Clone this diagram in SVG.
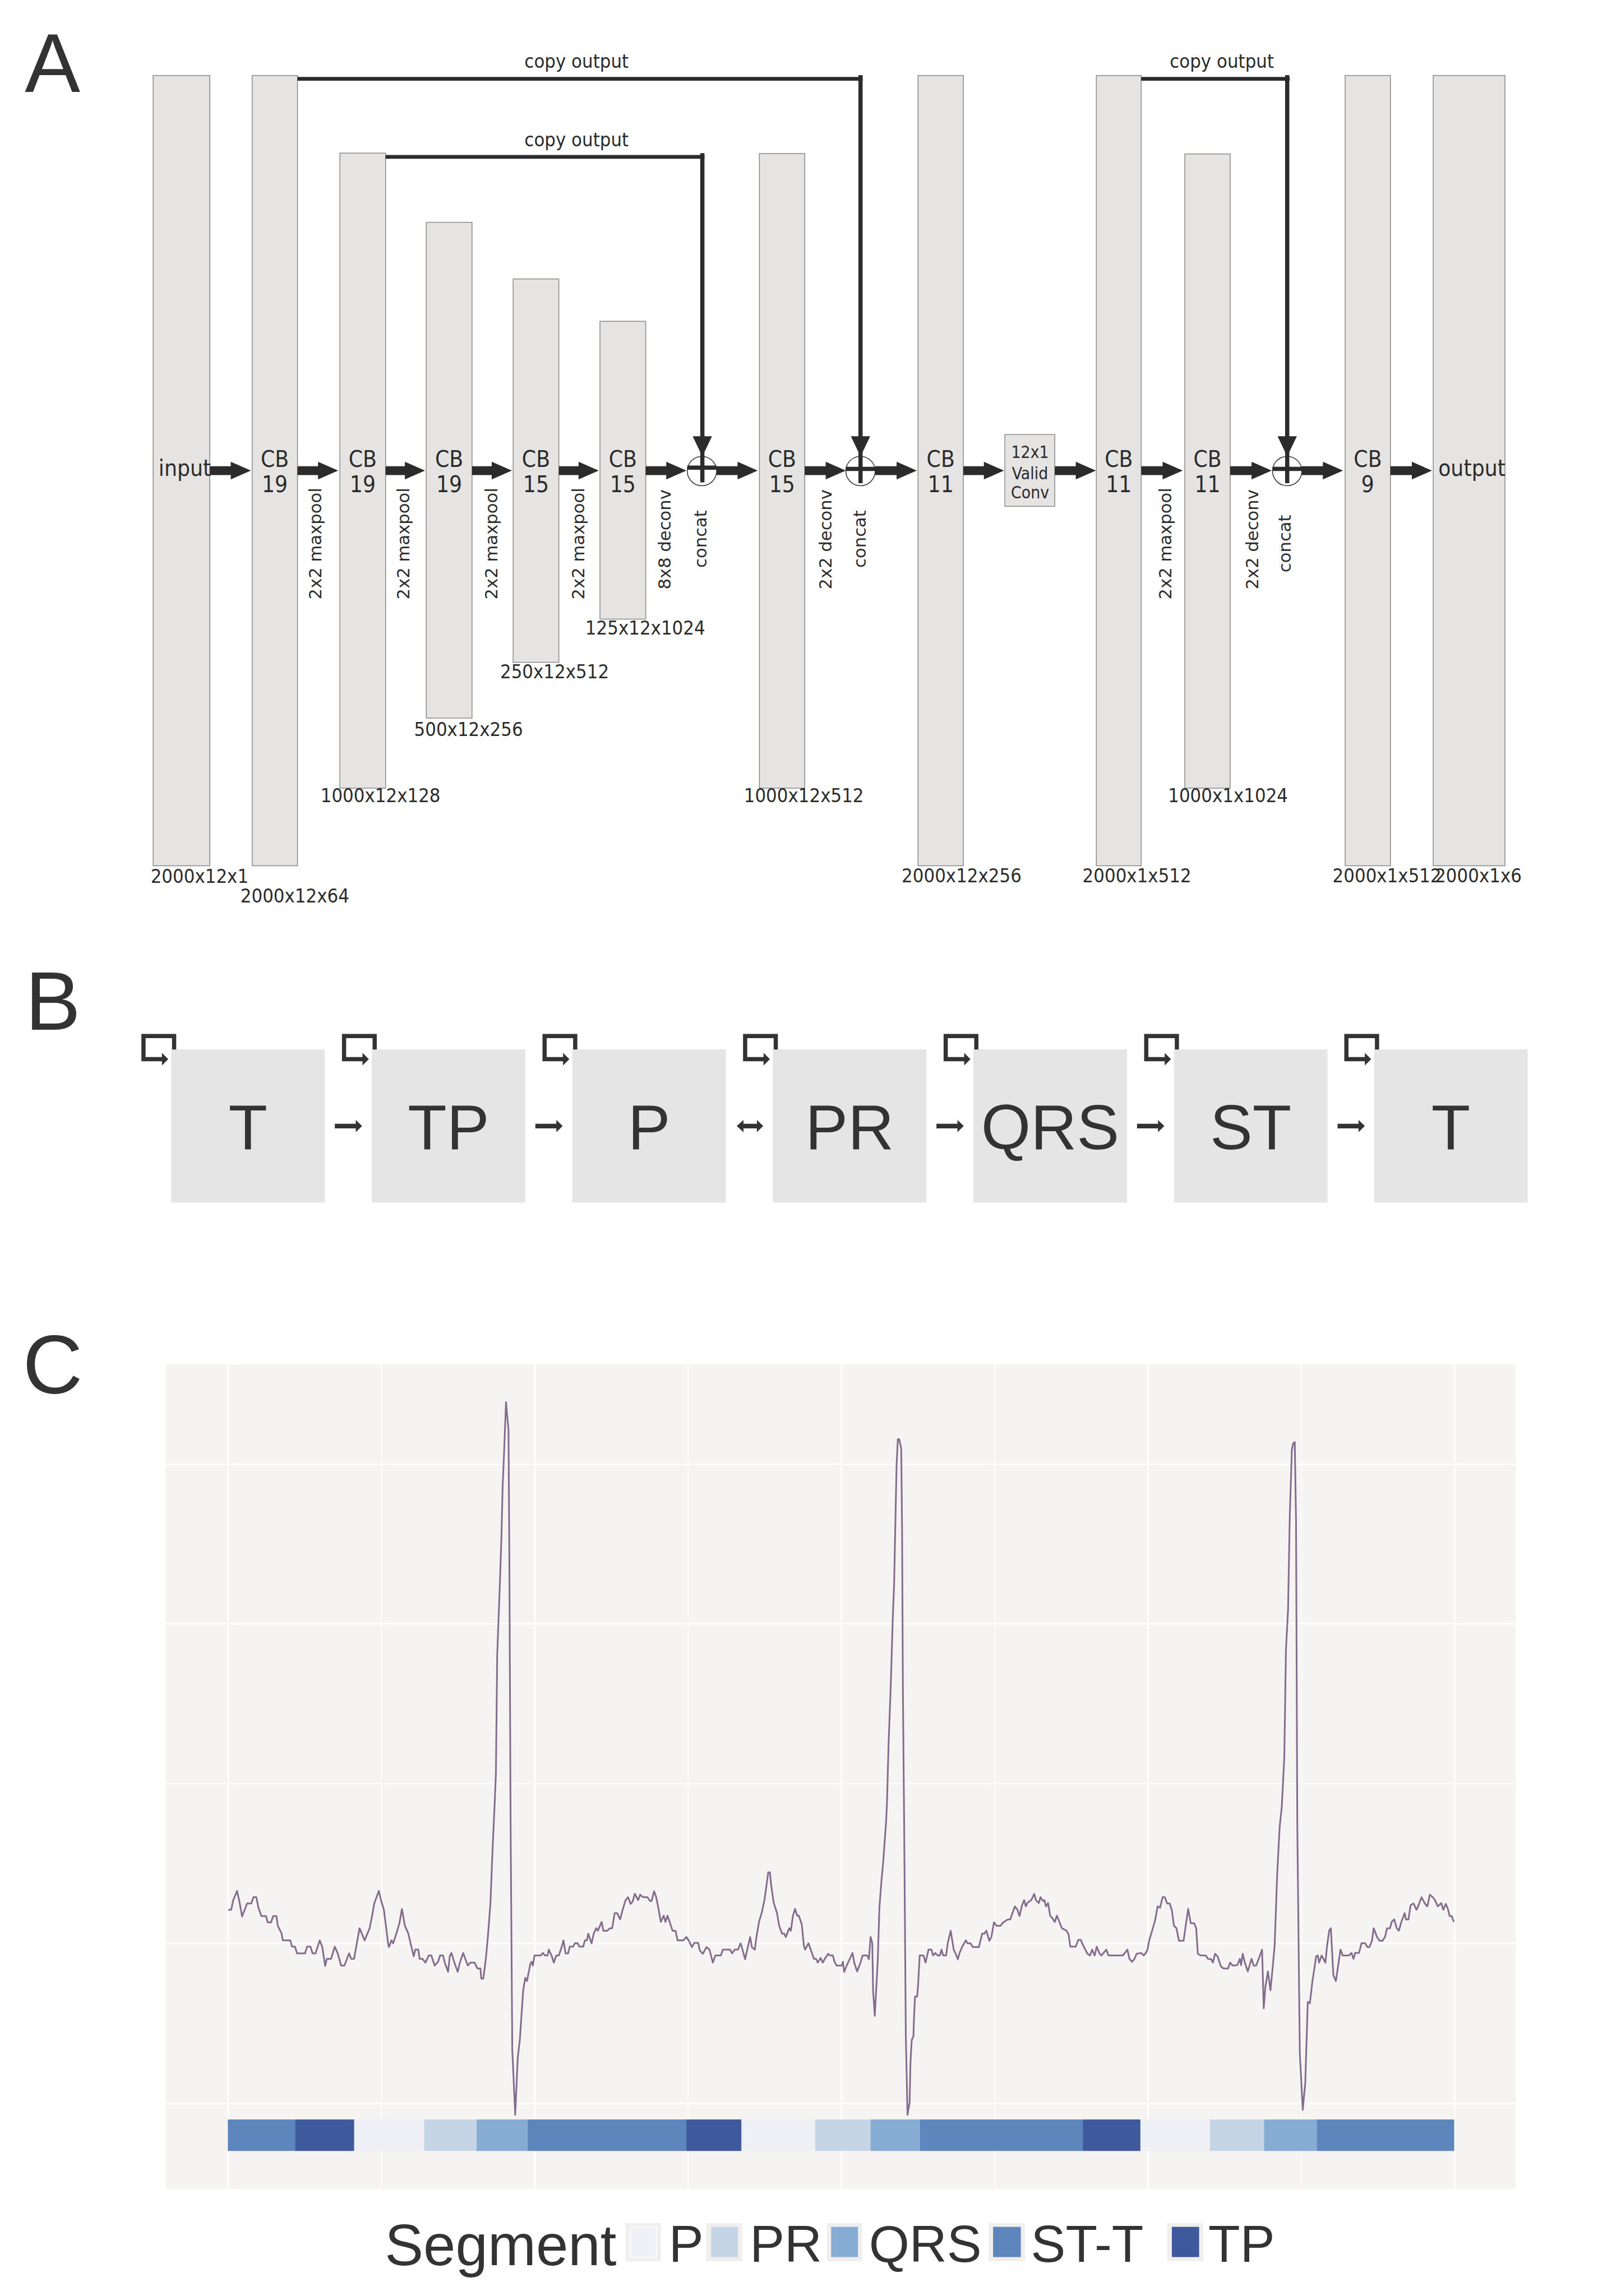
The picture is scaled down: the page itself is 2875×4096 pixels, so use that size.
<svg xmlns="http://www.w3.org/2000/svg" width="2875" height="4096" viewBox="0 0 2875 4096">
<defs>
<style>
.bar{fill:#e5e4e3;stroke:#8a8a8a;stroke-width:2}
.cd{font-family:'DejaVu Sans Condensed','Liberation Sans Narrow','DejaVu Sans',sans-serif;font-stretch:condensed;fill:#2b2b2b}
.cb{font-size:54px;text-anchor:middle}
.dim{font-size:46px}
.rot{font-family:'DejaVu Sans',sans-serif;font-size:41px;fill:#2b2b2b;text-anchor:middle}
.hv{font-family:'Liberation Sans',Arial,sans-serif;fill:#333}
.pl{font-size:198px}
.ar{fill:#2b2b2b}
.cp{fill:none;stroke:#2b2b2b}
.bx{fill:#e5e5e5}
.bt{font-size:152px;text-anchor:middle}
.lp{fill:none;stroke:#333;stroke-width:10}
.ab{fill:#333}
.gmaj{stroke:#ffffff;stroke-width:4}
.gmin{stroke:#ffffff;stroke-width:2}
.lg{font-size:124px}
</style>
</defs>
<rect width="2875" height="4096" fill="#ffffff"/>
<g transform="scale(0.74829)">
<!-- panel labels -->
<text class="hv pl" x="59" y="219">A</text>
<text class="hv pl" x="60" y="2455">B</text>
<text class="hv pl" x="54" y="3322">C</text>

<!-- PANEL A -->
<g id="a-input"><rect class="bar" x="365" y="180" width="135" height="1884"/><text class="cd" x="378" y="1134" font-size="54">input</text><text class="cd dim" x="359" y="2105">2000x12x1</text></g>
<g id="a-cb1"><rect class="bar" x="601" y="180" width="108" height="1884"/><text class="cd cb" x="655" y="1113">CB</text><text class="cd cb" x="655" y="1173">19</text><text class="cd dim" x="573" y="2152">2000x12x64</text></g>
<g id="a-cb2"><rect class="bar" x="810" y="365" width="109" height="1514"/><text class="cd cb" x="864.5" y="1113">CB</text><text class="cd cb" x="864.5" y="1173">19</text><text class="cd dim" x="764" y="1913">1000x12x128</text></g>
<g id="a-cb3"><rect class="bar" x="1016" y="530" width="109" height="1182"/><text class="cd cb" x="1070.5" y="1113">CB</text><text class="cd cb" x="1070.5" y="1173">19</text><text class="cd dim" x="987" y="1754">500x12x256</text></g>
<g id="a-cb4"><rect class="bar" x="1223" y="665" width="109" height="914"/><text class="cd cb" x="1277.5" y="1113">CB</text><text class="cd cb" x="1277.5" y="1173">15</text><text class="cd dim" x="1192" y="1617">250x12x512</text></g>
<g id="a-cb5"><rect class="bar" x="1430" y="766" width="109" height="710"/><text class="cd cb" x="1484.5" y="1113">CB</text><text class="cd cb" x="1484.5" y="1173">15</text><text class="cd dim" x="1395" y="1513">125x12x1024</text></g>
<g id="a-cb6"><rect class="bar" x="1810" y="366" width="108" height="1513"/><text class="cd cb" x="1864" y="1113">CB</text><text class="cd cb" x="1864" y="1173">15</text><text class="cd dim" x="1773" y="1913">1000x12x512</text></g>
<g id="a-cb7"><rect class="bar" x="2188" y="180" width="108" height="1884"/><text class="cd cb" x="2242" y="1113">CB</text><text class="cd cb" x="2242" y="1173">11</text><text class="cd dim" x="2149" y="2104">2000x12x256</text></g>
<g id="a-valid"><rect class="bar" x="2395" y="1036" width="119" height="171"/><text class="cd" font-size="40" text-anchor="middle" x="2455" y="1092">12x1</text><text class="cd" font-size="40" text-anchor="middle" x="2455" y="1142">Valid</text><text class="cd" font-size="40" text-anchor="middle" x="2455" y="1188">Conv</text></g>
<g id="a-cb8"><rect class="bar" x="2613" y="180" width="107" height="1884"/><text class="cd cb" x="2666.5" y="1113">CB</text><text class="cd cb" x="2666.5" y="1173">11</text><text class="cd dim" x="2580" y="2104">2000x1x512</text></g>
<g id="a-cb9"><rect class="bar" x="2824" y="367" width="108" height="1512"/><text class="cd cb" x="2878" y="1113">CB</text><text class="cd cb" x="2878" y="1173">11</text><text class="cd dim" x="2784" y="1913">1000x1x1024</text></g>
<g id="a-cb10"><rect class="bar" x="3206" y="180" width="108" height="1884"/><text class="cd cb" x="3260" y="1113">CB</text><text class="cd cb" x="3260" y="1173">9</text><text class="cd dim" x="3176" y="2104">2000x1x512</text></g>
<g id="a-output"><rect class="bar" x="3416" y="180" width="171" height="1884"/><text class="cd" x="3428" y="1134" font-size="54">output</text><text class="cd dim" x="3420" y="2104">2000x1x6</text></g>

<g id="a-concat1"><circle cx="1673" cy="1123" r="35" fill="#fff" stroke="#333" stroke-width="2"/></g>
<g id="a-concat2"><circle cx="2051" cy="1123" r="35" fill="#fff" stroke="#333" stroke-width="2"/></g>
<g id="a-concat3"><circle cx="3068" cy="1123" r="35" fill="#fff" stroke="#333" stroke-width="2"/></g>

<g id="a-connectors">
<path class="ar" d="M500 1111.5H550V1101L598 1122L550 1143V1132.5H500Z"/>
<path class="ar" d="M709 1111.5H758V1101L806 1122L758 1143V1132.5H709Z"/>
<path class="ar" d="M919 1111.5H965V1101L1013 1122L965 1143V1132.5H919Z"/>
<path class="ar" d="M1125 1111.5H1172V1101L1220 1122L1172 1143V1132.5H1125Z"/>
<path class="ar" d="M1332 1111.5H1379V1101L1427 1122L1379 1143V1132.5H1332Z"/>
<path class="ar" d="M1539 1111.5H1588V1101L1636 1122L1588 1143V1132.5H1539Z"/>
<path class="ar" d="M1708 1111.5H1758V1101L1806 1122L1758 1143V1132.5H1708Z"/>
<path class="ar" d="M1918 1111.5H1968V1101L2016 1122L1968 1143V1132.5H1918Z"/>
<path class="ar" d="M2086 1111.5H2137V1101L2185 1122L2137 1143V1132.5H2086Z"/>
<path class="ar" d="M2296 1111.5H2345V1101L2393 1122L2345 1143V1132.5H2296Z"/>
<path class="ar" d="M2514 1111.5H2564V1101L2612 1122L2564 1143V1132.5H2514Z"/>
<path class="ar" d="M2720 1111.5H2771V1101L2819 1122L2771 1143V1132.5H2720Z"/>
<path class="ar" d="M2932 1111.5H2983V1101L3031 1122L2983 1143V1132.5H2932Z"/>
<path class="ar" d="M3103 1111.5H3153V1101L3201 1122L3153 1143V1132.5H3103Z"/>
<path class="ar" d="M3314 1111.5H3365V1101L3413 1122L3365 1143V1132.5H3314Z"/>
<path class="cp" stroke-width="10" d="M1638 1115H1708M2016 1118H2086M3033 1118H3103"/>
<path class="cp" stroke-width="9" d="M709 188H2056M919 374H1679M2720 188H3074"/>
<path class="cp" stroke-width="10" d="M2051 179V1152M1674 365V1150M3068 179V1152"/>
<path class="ar" d="M2028 1040H2074L2051 1088Z"/>
<path class="ar" d="M1651 1040H1697L1674 1088Z"/>
<path class="ar" d="M3045 1040H3091L3068 1088Z"/>
</g>
<g id="a-labels">
<text class="cd" font-size="46" x="1250" y="162">copy output</text>
<text class="cd" font-size="46" x="1250" y="349">copy output</text>
<text class="cd" font-size="46" x="2788" y="162">copy output</text>
<text class="rot" transform="translate(766,1296) rotate(-90)">2x2 maxpool</text>
<text class="rot" transform="translate(976,1296) rotate(-90)">2x2 maxpool</text>
<text class="rot" transform="translate(1185,1296) rotate(-90)">2x2 maxpool</text>
<text class="rot" transform="translate(1392,1296) rotate(-90)">2x2 maxpool</text>
<text class="rot" transform="translate(1598,1286) rotate(-90)">8x8 deconv</text>
<text class="rot" transform="translate(1684,1285) rotate(-90)">concat</text>
<text class="rot" transform="translate(1982,1286) rotate(-90)">2x2 deconv</text>
<text class="rot" transform="translate(2064,1285) rotate(-90)">concat</text>
<text class="rot" transform="translate(2792,1296) rotate(-90)">2x2 maxpool</text>
<text class="rot" transform="translate(2999,1286) rotate(-90)">2x2 deconv</text>
<text class="rot" transform="translate(3076,1296) rotate(-90)">concat</text>
</g>

<!-- PANEL B -->
<g id="b-T1"><rect class="bx" x="408" y="2502" width="366" height="365"/><text class="hv bt" x="591" y="2740">T</text></g>
<g id="b-TP"><rect class="bx" x="886" y="2502" width="366" height="365"/><text class="hv bt" x="1069" y="2740">TP</text></g>
<g id="b-P"><rect class="bx" x="1364" y="2502" width="366" height="365"/><text class="hv bt" x="1547" y="2740">P</text></g>
<g id="b-PR"><rect class="bx" x="1842" y="2502" width="366" height="365"/><text class="hv bt" x="2025" y="2740">PR</text></g>
<g id="b-QRS"><rect class="bx" x="2320" y="2502" width="366" height="365"/><text class="hv bt" x="2503" y="2740">QRS</text></g>
<g id="b-ST"><rect class="bx" x="2798" y="2502" width="366" height="365"/><text class="hv bt" x="2981" y="2740">ST</text></g>
<g id="b-T2"><rect class="bx" x="3275" y="2502" width="366" height="365"/><text class="hv bt" x="3458" y="2740">T</text></g>
<g id="b-connectors">
<path class="lp" d="M415 2502V2470H342V2525H387"/><path class="ab" d="M386 2510L401 2525L386 2540Z"/>
<path class="lp" d="M893 2502V2470H820V2525H865"/><path class="ab" d="M864 2510L879 2525L864 2540Z"/>
<path class="lp" d="M1371 2502V2470H1298V2525H1343"/><path class="ab" d="M1342 2510L1357 2525L1342 2540Z"/>
<path class="lp" d="M1849 2502V2470H1776V2525H1821"/><path class="ab" d="M1820 2510L1835 2525L1820 2540Z"/>
<path class="lp" d="M2327 2502V2470H2254V2525H2299"/><path class="ab" d="M2298 2510L2313 2525L2298 2540Z"/>
<path class="lp" d="M2805 2502V2470H2732V2525H2777"/><path class="ab" d="M2776 2510L2791 2525L2776 2540Z"/>
<path class="lp" d="M3282 2502V2470H3209V2525H3254"/><path class="ab" d="M3253 2510L3268 2525L3253 2540Z"/>
<path class="ab" d="M798 2679H848V2670L863 2684.5L848 2699V2690H798Z"/>
<path class="ab" d="M1276 2679H1326V2670L1341 2684.5L1326 2699V2690H1276Z"/>
<path class="ab" d="M1756 2684.5L1772 2670V2679H1804V2670L1819 2684.5L1804 2699V2690H1772V2699Z"/>
<path class="ab" d="M2232 2679H2282V2670L2297 2684.5L2282 2699V2690H2232Z"/>
<path class="ab" d="M2710 2679H2760V2670L2775 2684.5L2760 2699V2690H2710Z"/>
<path class="ab" d="M3188 2679H3238V2670L3253 2684.5L3238 2699V2690H3188Z"/>
</g>

<!-- PANEL C -->
<g id="c-plot">
<rect x="395" y="3253" width="3218" height="1965" fill="#f5f4f2"/>
<path class="gmin" d="M909 3253V5218M1640 3253V5218M2371 3253V5218M3102 3253V5218"/>
<path class="gmaj" d="M544 3253V5218M1275 3253V5218M2006 3253V5218M2736 3253V5218M3467 3253V5218"/>
<path class="gmaj" d="M395 3491H3613M395 3871H3613M395 4633H3613M395 5015H3613"/>
<path class="gmin" d="M395 4252H3613"/>
<g id="c-segments">
<rect x="543" y="5053" width="162" height="75" fill="#5d86bc"/>
<rect x="704" y="5053" width="141" height="75" fill="#3e5a9c"/>
<rect x="844" y="5053" width="168" height="75" fill="#eff0f6"/>
<rect x="1011" y="5053" width="126" height="75" fill="#c6d5e5"/>
<rect x="1136" y="5053" width="123" height="75" fill="#87acd3"/>
<rect x="1258" y="5053" width="379" height="75" fill="#5d86bc"/>
<rect x="1636" y="5053" width="132" height="75" fill="#3e5a9c"/>
<rect x="1767" y="5053" width="177" height="75" fill="#eff0f6"/>
<rect x="1943" y="5053" width="133" height="75" fill="#c6d5e5"/>
<rect x="2075" y="5053" width="119" height="75" fill="#87acd3"/>
<rect x="2193" y="5053" width="389" height="75" fill="#5d86bc"/>
<rect x="2581" y="5053" width="138" height="75" fill="#3e5a9c"/>
<rect x="2718" y="5053" width="167" height="75" fill="#eff0f6"/>
<rect x="2884" y="5053" width="130" height="75" fill="#c6d5e5"/>
<rect x="3013" y="5053" width="127" height="75" fill="#87acd3"/>
<rect x="3139" y="5053" width="327" height="75" fill="#5d86bc"/>
</g>
<polyline fill="none" stroke="#836c8d" stroke-width="4" stroke-linejoin="round" points="544,4553 551,4553 556,4530 565,4508 570,4530 577,4569 589,4538 599,4538 604,4523 611,4523 616,4548 623,4568 634,4568 638,4583 646,4583 651,4568 659,4568 662,4591 671,4609 674,4626 692,4626 696,4641 703,4641 708,4657 727,4657 732,4641 740,4641 745,4657 752,4657 762,4626 768,4641 775,4687 779,4670 789,4670 798,4641 805,4657 813,4686 821,4686 832,4657 837,4670 844,4670 849,4641 857,4597 869,4626 881,4597 887,4567 892,4538 903,4508 908,4530 915,4553 919,4585 925,4633 927,4642 933,4626 937,4633 944,4612 952,4585 958,4551 965,4591 973,4609 980,4639 986,4664 990,4648 997,4648 1000,4670 1007,4670 1014,4679 1022,4662 1028,4662 1036,4686 1044,4677 1049,4662 1056,4662 1060,4679 1068,4701 1072,4664 1076,4656 1083,4679 1091,4701 1096,4679 1104,4656 1109,4670 1115,4686 1121,4679 1131,4679 1138,4693 1145,4693 1147,4717 1152,4717 1158,4670 1163,4615 1169,4536 1174,4409 1179,4300 1182,4227 1185,3948 1191,3787 1195,3669 1198,3545 1202,3449 1206,3343 1212,3409 1214,3713 1217,4350 1221,4888 1228,5042 1234,4906 1239,4863 1247,4745 1252,4715 1256,4723 1264,4682 1267,4677 1270,4686 1274,4662 1289,4662 1294,4656 1299,4662 1305,4662 1308,4648 1315,4663 1320,4679 1326,4662 1332,4662 1339,4641 1343,4626 1348,4657 1354,4657 1358,4641 1366,4641 1370,4633 1377,4633 1381,4641 1390,4641 1394,4626 1399,4626 1402,4610 1410,4633 1415,4610 1421,4597 1425,4603 1434,4582 1438,4603 1447,4603 1454,4597 1459,4597 1465,4561 1471,4561 1478,4576 1484,4553 1491,4530 1497,4523 1503,4539 1508,4533 1513,4515 1521,4530 1526,4517 1532,4523 1543,4523 1549,4532 1553,4532 1559,4509 1564,4523 1569,4548 1575,4582 1582,4567 1586,4582 1591,4567 1599,4591 1603,4603 1610,4603 1615,4626 1629,4626 1636,4618 1642,4627 1649,4642 1655,4632 1664,4632 1668,4650 1675,4658 1684,4642 1691,4648 1699,4679 1705,4662 1718,4662 1723,4648 1740,4648 1745,4657 1751,4648 1759,4648 1765,4633 1768,4642 1776,4671 1781,4648 1788,4618 1792,4642 1799,4648 1803,4618 1809,4582 1816,4558 1822,4530 1827,4494 1831,4464 1835,4464 1838,4494 1844,4536 1852,4561 1857,4591 1864,4610 1869,4610 1873,4618 1881,4597 1885,4603 1890,4567 1895,4551 1900,4567 1904,4567 1911,4588 1916,4639 1919,4648 1927,4633 1933,4650 1940,4670 1945,4670 1949,4679 1956,4668 1961,4679 1967,4668 1974,4658 1978,4662 1985,4662 1989,4677 1994,4686 2006,4686 2009,4677 2012,4701 2018,4686 2032,4656 2036,4679 2043,4700 2051,4679 2056,4662 2067,4662 2071,4671 2075,4618 2079,4632 2081,4748 2085,4806 2092,4676 2096,4548 2101,4482 2105,4439 2112,4342 2114,4300 2118,4153 2123,4021 2128,3853 2131,3779 2137,3490 2140,3431 2143,3431 2148,3453 2150,3640 2152,4029 2155,4350 2159,4857 2163,5042 2168,5012 2170,4918 2173,4864 2177,4855 2179,4797 2181,4760 2186,4760 2188,4736 2192,4662 2201,4662 2206,4679 2213,4648 2220,4648 2224,4662 2229,4656 2235,4662 2240,4662 2244,4648 2248,4662 2255,4662 2259,4632 2266,4603 2273,4648 2277,4656 2283,4671 2287,4656 2293,4642 2302,4626 2306,4633 2313,4633 2319,4642 2333,4642 2341,4610 2346,4610 2351,4603 2358,4627 2363,4618 2369,4583 2375,4591 2385,4591 2391,4583 2402,4576 2408,4576 2413,4561 2419,4545 2425,4553 2430,4568 2436,4542 2441,4530 2445,4545 2449,4536 2455,4532 2458,4530 2465,4515 2469,4530 2476,4537 2480,4523 2486,4532 2489,4530 2493,4545 2498,4537 2503,4567 2508,4573 2514,4582 2519,4567 2525,4582 2531,4597 2542,4603 2547,4612 2551,4641 2564,4641 2570,4625 2576,4625 2583,4641 2592,4658 2598,4662 2603,4648 2609,4662 2614,4641 2621,4658 2625,4662 2637,4648 2642,4662 2676,4662 2681,4656 2687,4648 2692,4670 2698,4677 2704,4670 2709,4658 2720,4656 2726,4662 2731,4656 2735,4648 2739,4626 2746,4603 2753,4579 2759,4545 2765,4548 2771,4523 2776,4523 2782,4538 2788,4538 2793,4554 2798,4591 2804,4597 2810,4627 2821,4627 2826,4591 2832,4551 2838,4585 2846,4585 2851,4597 2855,4658 2862,4662 2874,4662 2879,4670 2887,4671 2891,4679 2896,4658 2902,4664 2910,4688 2916,4693 2927,4693 2932,4679 2938,4686 2949,4685 2955,4670 2958,4685 2962,4658 2967,4679 2974,4700 2983,4670 2988,4686 2994,4686 3003,4662 3008,4648 3012,4788 3016,4736 3022,4700 3028,4745 3033,4694 3038,4639 3044,4470 3050,4355 3055,4308 3061,4190 3065,3933 3070,3838 3074,3618 3079,3457 3082,3442 3086,3438 3089,3625 3092,4350 3098,4894 3105,5030 3111,4966 3117,4773 3122,4776 3128,4724 3137,4664 3141,4662 3144,4679 3150,4662 3159,4679 3163,4639 3168,4603 3172,4597 3178,4709 3184,4723 3195,4648 3200,4662 3215,4662 3221,4656 3226,4670 3230,4656 3239,4656 3245,4633 3254,4633 3259,4642 3264,4642 3270,4627 3274,4597 3282,4618 3288,4627 3295,4627 3301,4618 3306,4597 3313,4597 3317,4582 3323,4576 3329,4597 3334,4603 3340,4582 3348,4561 3351,4576 3357,4576 3362,4542 3369,4538 3376,4553 3380,4545 3388,4523 3396,4538 3402,4545 3408,4517 3415,4523 3420,4530 3427,4545 3435,4537 3440,4553 3446,4539 3451,4551 3455,4568 3460,4568 3465,4582"/>
</g>
<g id="c-legend">
<text class="hv" font-size="138" x="917" y="5400">Segment</text>
<rect x="1491" y="5300" width="84" height="91" fill="#f0efee"/><rect x="1502" y="5309" width="63" height="72" fill="#eff0f6" stroke="#ffffff" stroke-width="2"/>
<text class="hv lg" x="1594" y="5392">P</text>
<rect x="1683" y="5300" width="86" height="91" fill="#f0efee"/><rect x="1695" y="5309" width="64" height="72" fill="#c6d5e5"/>
<text class="hv lg" x="1787" y="5392">PR</text>
<rect x="1971" y="5300" width="84" height="91" fill="#f0efee"/><rect x="1981" y="5309" width="64" height="72" fill="#87acd3"/>
<text class="hv lg" x="2071" y="5392">QRS</text>
<rect x="2356" y="5300" width="87" height="91" fill="#f0efee"/><rect x="2367" y="5309" width="66" height="72" fill="#5d86bc"/>
<text class="hv lg" x="2457" y="5392">ST-T</text>
<rect x="2782" y="5300" width="86" height="91" fill="#f0efee"/><rect x="2793" y="5309" width="65" height="72" fill="#3e5a9c"/>
<text class="hv lg" x="2880" y="5392">TP</text>
</g>
</g>
</svg>
